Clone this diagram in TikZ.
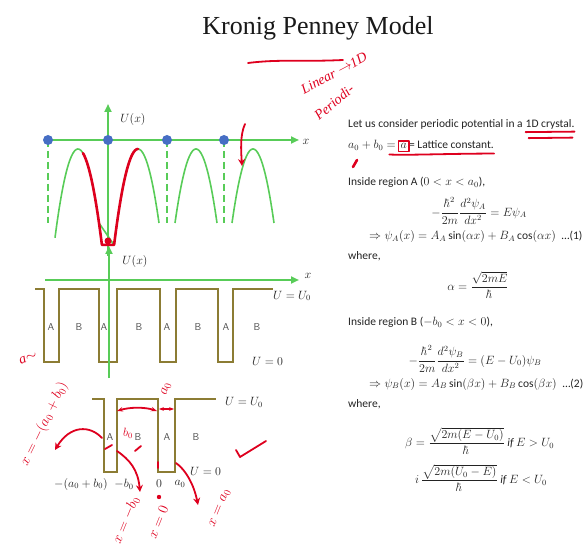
\documentclass[tikz,border=0pt]{standalone}
\usepackage{fontspec}
\usepackage{amsmath}
\setmainfont{Carlito}
\newfontfamily\titlefont{Liberation Serif}
\newfontfamily\handfont{Liberation Serif}
\usetikzlibrary{arrows.meta}
\definecolor{kgreen}{RGB}{88,204,88}
\definecolor{kblue}{RGB}{70,110,196}
\definecolor{kolive}{RGB}{140,124,52}
\definecolor{kred}{RGB}{222,0,30}
\definecolor{ktext}{RGB}{35,35,35}
\begin{document}
\begin{tikzpicture}[x=1pt,y=-1pt,
  axis/.style={draw=kgreen, line width=2pt, -{Triangle[length=8pt,width=7pt]}},
  arch/.style={draw=kgreen, line width=1.6pt},
  guide/.style={draw=kgreen, line width=1.6pt, dash pattern=on 7pt off 4pt},
  site/.style={circle, fill=kblue, inner sep=0pt, minimum size=10pt},
  wall/.style={draw=kolive, line width=1.8pt, line join=miter},
  reg/.style={font=\fontsize{10}{11}\selectfont\sffamily, text=black!70, inner sep=0pt},
  lab/.style={font=\fontsize{12}{14}\selectfont, text=ktext, inner sep=0pt},
  eq/.style={font=\fontsize{11.5}{14}\selectfont, text=ktext, inner sep=0pt},
  body/.style={font=\fontsize{11.5}{14}\selectfont, anchor=west, inner sep=0pt, text=ktext},
  chain/.style={font=\fontsize{11.5}{14}\selectfont, anchor=base west, inner sep=0pt, text=ktext},
  ink/.style={draw=kred, line width=1.8pt, line cap=round, line join=round},
  inkarrow/.style={ink, -{Stealth[length=7pt,width=7pt]}},
  hand/.style={text=kred, font=\handfont\itshape\fontsize{14}{15}\selectfont, inner sep=0pt},
]
\useasboundingbox (0,0) rectangle (586,545);

% ---------- title ----------
\node[font=\titlefont\fontsize{26}{30}\selectfont, text=black!90] (title) at (318,28) {Kronig Penney Model};

% ---------- top diagram ----------
\coordinate (ax1s) at (45,140);
\coordinate (ax1e) at (299,140);
\coordinate (ay1s) at (108,256);
\coordinate (ay1e) at (108,104);
\draw[guide] (48,140) -- (48,223);
\draw[guide] (167,140) -- (167,223);
\draw[guide] (224,140) -- (224,223);
\draw[arch] plot[domain=-23:21, samples=40] ({78+\x},{149+74*(\x/21)^2}) -- (114,245);
\draw[arch] plot[domain=-23.9:21, samples=40] ({138+\x},{149+74*(\x/21)^2});
\draw[arch] plot[domain=-21:21, samples=40] ({196+\x},{149+74*(\x/21)^2});
\draw[arch] plot[domain=-21:21, samples=40] ({253+\x},{149+74*(\x/21)^2});
\draw[arch] (101.9,244.8) -- (114.1,244.8);
\draw[axis] (ay1s) -- (ay1e);
\draw[axis] (ax1s) -- (ax1e);
\node[site] (s1) at (48,140) {};
\node[site] (s2) at (108,140) {};
\node[site] (s3) at (167,140) {};
\node[site] (s4) at (224,140) {};
\node[lab, font=\fontsize{13}{15}\selectfont] (x1lab) at (306,142) {$x$};
\node[lab, font=\fontsize{13}{15}\selectfont] (u1lab) at (133,120) {$U(x)$};

% ---------- middle diagram ----------
\coordinate (ax2s) at (45,280);
\coordinate (ax2e) at (299,280);
\coordinate (ay2s) at (109,378);
\coordinate (ay2e) at (109,246);
\draw[wall] (35,289) -- (44,289) -- (44,362) -- (59,362) -- (59,289) -- (99,289) -- (99,362) -- (117,362) -- (117,289)
  -- (160,289) -- (160,362) -- (176,362) -- (176,289) -- (218,289) -- (218,362) -- (233,362) -- (233,289) -- (273,289);
\draw[axis] (ay2s) -- (ay2e);
\draw[axis] (ax2s) -- (ax2e);
\node[lab, font=\fontsize{13}{15}\selectfont] (x2lab) at (308,276) {$x$};
\node[lab, font=\fontsize{13}{15}\selectfont] (u2lab) at (135,262) {$U(x)$};
\node[reg] (r1) at (51,327) {A};
\node[reg] (r2) at (79,327) {B};
\node[reg] (r3) at (104,327) {A};
\node[reg] (r4) at (139,327) {B};
\node[reg] (r5) at (167,327) {A};
\node[reg] (r6) at (198,327) {B};
\node[reg] (r7) at (226,327) {A};
\node[reg] (r8) at (257,327) {B};
\node[lab, anchor=west] (uu0) at (273,296) {$U = U_0$};
\node[lab, anchor=west] (uz0) at (252,361) {$U = 0$};

% ---------- bottom diagram ----------
\draw[wall] (92,399) -- (104,399) -- (104,472) -- (117,472) -- (117,399) -- (158,399) -- (158,472) -- (175,472) -- (175,399) -- (216,399);
\node[reg] (q1) at (110,437) {A};
\node[reg] (q2) at (138,437) {B};
\node[reg] (q3) at (167,437) {A};
\node[reg] (q4) at (196,437) {B};
\node[lab, anchor=west] (bu0) at (225,402) {$U = U_0$};
\node[lab, anchor=west] (bz0) at (190,471) {$U = 0$};
\node[lab] (t1) at (81,484) {$-(a_0 + b_0)$};
\node[lab] (t2) at (124,484) {$-b_0$};
\node[lab] (t3) at (159,484) {$0$};
\node[lab] (t4) at (180,484) {$a_0$};

% ---------- text block ----------
\node[body] (l1) at (348,124) {Let us consider periodic potential in a};
\node[chain] (l1b) at ([xshift=2.6pt]l1.base east) {1D crystal.};
\node[body] (l2) at (348,145) {$a_0 + b_0 = {}$};
\node[chain] (l2a) at ([xshift=1pt]l2.base east) {$a$};
\node[chain] (l2c) at ([xshift=2pt]l2a.base east) {= Lattice constant.};
\node[body] (l3) at (348,182) {Inside region A ($0 < x < a_0$),};
\node[eq] (eqA) at (479,211) {$-\dfrac{\hbar^2}{2m}\dfrac{d^2\psi_A}{dx^2} = E\psi_A$};
\node[body] (solA) at (369,237) {$\Rightarrow \psi_A(x) = A_A\sin(\alpha x) + B_A\cos(\alpha x)$\enspace\ldots(1)};
\node[body] (w1) at (348,256) {where,};
\node[eq] (alpha) at (478,285) {$\alpha = \dfrac{\sqrt{2mE}}{\hbar}$};
\node[body] (l4) at (348,322) {Inside region B ($-b_0 < x < 0$),};
\node[eq] (eqB) at (475,359) {$-\dfrac{\hbar^2}{2m}\dfrac{d^2\psi_B}{dx^2} = (E - U_0)\psi_B$};
\node[body] (solB) at (369,384) {$\Rightarrow \psi_B(x) = A_B\sin(\beta x) + B_B\cos(\beta x)$\enspace\ldots(2)};
\node[body] (w2) at (348,404) {where,};
\node[eq, anchor=west] (beta1) at (405,441) {$\beta = \dfrac{\sqrt{2m(E - U_0)}}{\hbar}\ \mathit{if}\ E > U_0$};
\node[eq, anchor=west] (beta2) at (415,478) {$i\,\dfrac{\sqrt{2m(U_0 - E)}}{\hbar}\ \mathit{if}\ E < U_0$};

% ---------- handwritten annotations ----------
\draw[ink] (248,63) .. controls (280,59) and (300,62) .. (343,60);
\node[hand, rotate=28] (h1) at (334,73) {Linear $\rightarrow$1D};
\node[hand, rotate=40] (h2) at (334,102) {Periodi-};
\draw[ink] ([yshift=-3pt]l1b.south west) -- ([yshift=-2.5pt]l1b.south east);
\draw[ink] ([xshift=3pt,yshift=-9pt]l1b.south west) -- ([xshift=-2pt,yshift=-8.5pt]l1b.south east);
\draw[ink, line width=1.4pt] ([xshift=-2pt,yshift=-3pt]l2a.south west) rectangle ([xshift=2pt,yshift=2pt]l2a.north east);
\draw[ink] ([xshift=-11pt,yshift=-6pt]l2a.south west) .. controls ([xshift=-4pt,yshift=-7pt]l2a.south east) and ([yshift=-5pt]l2c.south) .. ([yshift=-5pt]l2c.south east);
\draw[ink, line width=2.6pt] (353,167) -- (357,160);
\draw[inkarrow] (245,124) .. controls (240,135) and (241,150) .. (242,166);
\draw[ink, line width=2.6pt] plot[domain=5:23.9, samples=25] ({78+\x},{149+74*(\x/21)^2}) -- plot[domain=-23.9:0, samples=25] ({138+\x},{149+74*(\x/21)^2});
\fill[kred] (108,241) circle (3.5pt);
% bottom left
\node[hand, rotate=64] (h3) at (44,424) {$x = -(a_0 + b_0)$};
\node[hand, rotate=20] (h4) at (28,358) {a$\sim$};
\draw[inkarrow] (102,438) .. controls (90,425) and (70,425) .. (55,450);
\draw[ink] (105,449) -- (112,445);
\draw[ink] (135,451) -- (141,446);
\node[hand, font=\handfont\itshape\fontsize{12}{13}\selectfont] (h5) at (128,433) {$b_0$};
\draw[ink, {Stealth[length=6pt]}-{Stealth[length=6pt]}] (117,411) .. controls (130,407) and (145,407) .. (157,411);
\draw[ink, {Stealth[length=5pt]}-{Stealth[length=5pt]}] (159,409) -- (174,409);
\node[hand, rotate=75] (h6) at (166,389) {$a_0$};
\draw[inkarrow] (117,451) .. controls (130,460) and (138,470) .. (140,492);
\node[hand, rotate=68] (h7) at (126,520) {$x = -b_0$};
\fill[kred] (159,497) circle (2.2pt);
\node[hand, rotate=68] (h8) at (158,522) {$x = 0$};
\draw[ink] (158,462) -- (158,468);
\draw[inkarrow] (176,463) .. controls (186,470) and (194,485) .. (198,505);
\node[hand, rotate=68] (h9) at (220,508) {$x = a_0$};
\draw[ink] (236,450) -- (240,457) -- (266,441);
\end{tikzpicture}
\end{document}
